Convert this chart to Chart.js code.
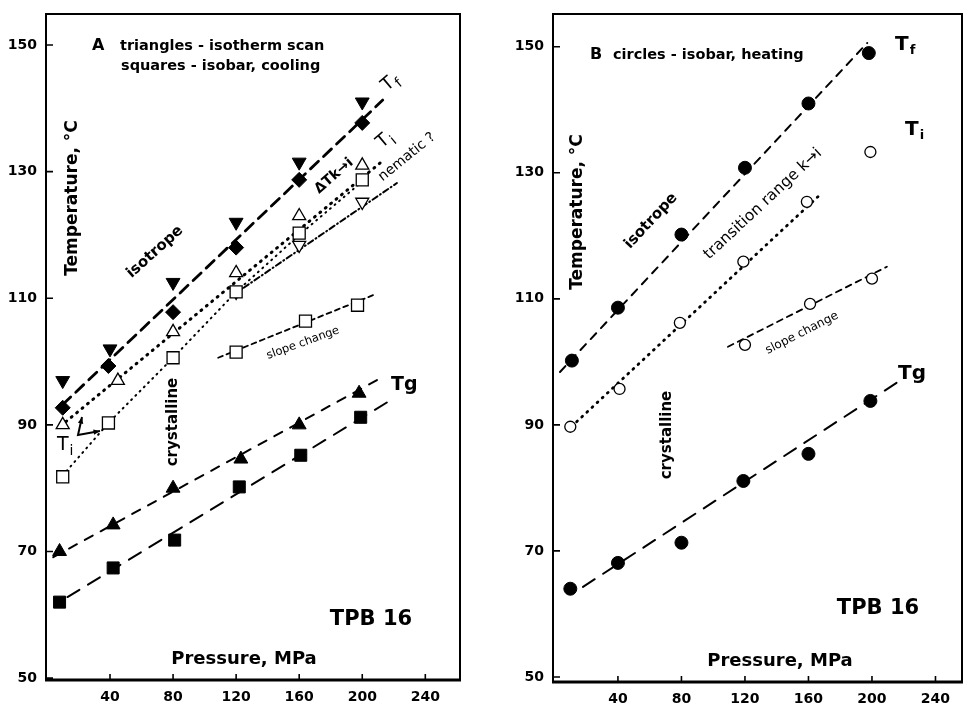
<!DOCTYPE html>
<html>
<head>
<meta charset="utf-8">
<script src="https://cdn.jsdelivr.net/npm/chart.js@4.4.1/dist/chart.umd.min.js"></script>
<style>
  body { margin: 0; background: #fff; }
  #wrap { position: relative; width: 963px; height: 707px; }
  canvas { position: absolute; top: 0; }
</style>
</head>
<body>
<div id="wrap">
  <canvas id="chartA" width="480" height="707" style="left:0"></canvas>
  <canvas id="chartB" width="483" height="707" style="left:480px"></canvas>
</div>
<script>
// tick labels
const pressureTicks = [40, 80, 120, 160, 200, 240];
const tempTicks = [50, 70, 90, 110, 130, 150];

// Panel A - triangles: isotherm scan, squares: isobar cooling
const aTfTriP = [10, 40, 80, 120, 160, 200];
const aTfTriT = [97, 102, 112.5, 122, 131.5, 141];
const aTfSqP = [10, 39, 80, 120, 160, 200];
const aTfSqT = [92.7, 99.3, 107.8, 118, 128.7, 137.7];
const aTiTriP = [10, 45, 80, 120, 160, 200];
const aTiTriT = [90, 97, 104.7, 114, 123, 131];
const aTiSqP = [10, 39, 80, 120, 160, 200];
const aTiSqT = [81.8, 90.3, 100.6, 111, 120.3, 128.7];
const aDownTriP = [120, 160, 200];
const aDownTriT = [111, 118.4, 125.2];
const aSlopeSqP = [120, 164, 197];
const aSlopeSqT = [101.5, 106.4, 108.9];
const aTgTriP = [8, 42, 80, 123, 160, 198];
const aTgTriT = [70, 74.2, 80, 84.6, 90, 95];
const aTgSqP = [8, 42, 81, 122, 161, 199];
const aTgSqT = [62, 67.4, 71.8, 80.2, 85.2, 91.2];

// Panel A - guide lines
const aFitTfP = [10, 213];
const aFitTfT = [93.2, 141.3];
const aFitTiUpP = [12, 212];
const aFitTiUpT = [90.5, 131.5];
const aFitTiLowP = [10, 39, 80, 120, 160, 205];
const aFitTiLowT = [82, 90.3, 100.6, 111, 120, 129.5];
const aFitNemP = [118, 222];
const aFitNemT = [110.5, 128.2];
const aFitSlopeP = [108.6, 207];
const aFitSlopeT = [100.6, 110.5];
const aFitTgTriP = [4, 209.5];
const aFitTgTriT = [69.1, 97.1];
const aFitTgSqP = [13, 218];
const aFitTgSqT = [62.8, 93.9];

// Panel B - circles: isobar heating
const bTfP = [11, 40, 80, 120, 160, 198];
const bTfT = [100.2, 108.6, 120.2, 130.8, 141, 149];
const bTiP = [10, 41, 79, 119, 159, 199];
const bTiT = [89.7, 95.7, 106.2, 115.9, 125.4, 133.3];
const bSlopeP = [120, 161, 200];
const bSlopeT = [102.7, 109.2, 113.2];
const bTgP = [10, 40, 80, 119, 160, 199];
const bTgT = [64, 68.1, 71.3, 81.1, 85.4, 93.8];

// Panel B - guide lines
const bFitTfP = [3.5, 197];
const bFitTfT = [98.4, 150.6];
const bFitTiP = [14, 168.5];
const bFitTiT = [90.5, 126.8];
const bFitSlopeP = [109.3, 209.4];
const bFitSlopeT = [102.4, 115.1];
const bFitTgP = [18, 215.7];
const bFitTgT = [64.3, 96.7];

const pts = (xs, ys) => xs.map((x, i) => ({x: x, y: ys[i]}));

function marker(xs, ys, style, r, filled, rot) {
    return {
        data: pts(xs, ys),
        pointStyle: style,
        pointRadius: r,
        pointRotation: rot || 0,
        pointBackgroundColor: filled ? '#000' : '#fff',
        pointBorderColor: '#000',
        pointBorderWidth: filled ? 1 : 1.3,
        showLine: false
    };
}

function guide(xs, ys, dash, width) {
    return {
        data: pts(xs, ys),
        showLine: true,
        borderColor: '#000',
        borderWidth: width,
        borderDash: dash,
        borderCapStyle: 'round',
        pointRadius: 0,
        fill: false,
        tension: 0
    };
}

function axes(xMin, xMax, yMin, yMax, yW, xH) {
    const tickFont = {family: 'DejaVu Sans', weight: 'bold', size: 14};
    return {
        x: {
            type: 'linear', min: xMin, max: xMax,
            grid: {display: false, drawTicks: false},
            border: {display: false},
            afterBuildTicks: s => { s.ticks = pressureTicks.map(v => ({value: v})); },
            afterFit: s => { s.height = xH; s.paddingLeft = 0; s.paddingRight = 0; },
            ticks: {color: '#000', font: tickFont, padding: 9, maxRotation: 0, autoSkip: false}
        },
        y: {
            type: 'linear', min: yMin, max: yMax,
            grid: {display: false, drawTicks: false},
            border: {display: false},
            afterBuildTicks: s => { s.ticks = tempTicks.map(v => ({value: v})); },
            afterFit: s => { s.width = yW; s.paddingTop = 0; s.paddingBottom = 0; },
            ticks: {color: '#000', font: tickFont, padding: 9, autoSkip: false}
        }
    };
}

// box around the plot with inward tick marks
const framePlugin = {
    id: 'frame',
    afterDatasetsDraw(chart) {
        const ctx = chart.ctx;
        const a = chart.chartArea;
        const x = chart.scales.x, y = chart.scales.y;
        ctx.save();
        ctx.strokeStyle = '#000';
        ctx.lineWidth = 2;
        ctx.strokeRect(a.left, a.top, a.right - a.left, a.bottom - a.top);
        ctx.lineWidth = 3;
        ctx.beginPath();
        ctx.moveTo(a.left - 1, a.bottom);
        ctx.lineTo(a.right + 1, a.bottom);
        ctx.stroke();
        ctx.lineWidth = 1.6;
        ctx.beginPath();
        pressureTicks.forEach(v => {
            const px = x.getPixelForValue(v);
            ctx.moveTo(px, a.bottom);
            ctx.lineTo(px, a.bottom - 6);
        });
        tempTicks.forEach(v => {
            const py = y.getPixelForValue(v);
            ctx.moveTo(a.left, py);
            ctx.lineTo(a.left + 7, py);
        });
        ctx.stroke();
        ctx.restore();
    }
};

function notes(items, arrows) {
    return {
        id: 'notes',
        afterDraw(chart) {
            const ctx = chart.ctx;
            items.forEach(n => {
                ctx.save();
                ctx.translate(n.x, n.y);
                ctx.rotate((n.rot || 0) * Math.PI / 180);
                ctx.fillStyle = '#000';
                ctx.font = n.font;
                ctx.textAlign = n.align || 'center';
                ctx.textBaseline = 'middle';
                ctx.fillText(n.text, 0, 0);
                if (n.sub) {
                    const w = ctx.measureText(n.text).width;
                    ctx.font = n.subFont;
                    ctx.textAlign = 'left';
                    ctx.fillText(n.sub, w + 1, 6);
                }
                ctx.restore();
            });
            (arrows || []).forEach(p => {
                ctx.save();
                ctx.strokeStyle = '#000';
                ctx.fillStyle = '#000';
                ctx.lineWidth = 2;
                ctx.beginPath();
                ctx.moveTo(p[0][0], p[0][1]);
                p.slice(1).forEach(q => ctx.lineTo(q[0], q[1]));
                ctx.stroke();
                [[p[1], p[0]], [p[p.length - 2], p[p.length - 1]]].forEach(seg => {
                    const ang = Math.atan2(seg[1][1] - seg[0][1], seg[1][0] - seg[0][0]);
                    const tx = seg[1][0], ty = seg[1][1];
                    ctx.beginPath();
                    ctx.moveTo(tx, ty);
                    ctx.lineTo(tx - 7 * Math.cos(ang - 0.4), ty - 7 * Math.sin(ang - 0.4));
                    ctx.lineTo(tx - 7 * Math.cos(ang + 0.4), ty - 7 * Math.sin(ang + 0.4));
                    ctx.closePath();
                    ctx.fill();
                });
                ctx.restore();
            });
        }
    };
}

const F = '"DejaVu Sans"';

const notesA = [
    {text: 'A', x: 92, y: 46, align: 'left', font: 'bold 16px ' + F},
    {text: 'triangles - isotherm scan', x: 120, y: 46, align: 'left', font: 'bold 14.5px ' + F},
    {text: 'squares - isobar, cooling', x: 121, y: 66, align: 'left', font: 'bold 14.5px ' + F},
    {text: 'T', sub: 'f', x: 384, y: 88, rot: -40, align: 'left', font: '18px ' + F, subFont: '14px ' + F},
    {text: 'T', sub: 'i', x: 379, y: 145, rot: -40, align: 'left', font: '18px ' + F, subFont: '14px ' + F},
    {text: 'isotrope', x: 155, y: 252, rot: -42, font: 'bold 15px ' + F},
    {text: 'Temperature, \u00b0C', x: 73, y: 198, rot: -90, font: 'bold 17px ' + F},
    {text: '\u0394Tk\u2192i', x: 334, y: 176, rot: -41, font: 'bold 14px ' + F},
    {text: 'nematic ?', x: 407, y: 157, rot: -39, font: '14px ' + F},
    {text: 'slope change', x: 303, y: 343, rot: -20, font: '11.5px ' + F},
    {text: 'crystalline', x: 173, y: 422, rot: -90, font: 'bold 15px ' + F},
    {text: 'T', sub: 'i', x: 57, y: 445, align: 'left', font: '19px ' + F, subFont: '14px ' + F},
    {text: 'Tg', x: 391, y: 385, align: 'left', font: 'bold 19px ' + F},
    {text: 'TPB 16', x: 371, y: 620, font: 'bold 21px ' + F},
    {text: 'Pressure, MPa', x: 244, y: 659, font: 'bold 18px ' + F}
];
const arrowsA = [[[82, 417], [78, 435], [100, 431]]];

const notesB = [
    {text: 'B', x: 110, y: 55, align: 'left', font: 'bold 16px ' + F},
    {text: 'circles - isobar, heating', x: 133, y: 55, align: 'left', font: 'bold 14.5px ' + F},
    {text: 'T', sub: 'f', x: 415, y: 45, align: 'left', font: 'bold 20px ' + F, subFont: 'bold 13px ' + F},
    {text: 'T', sub: 'i', x: 425, y: 130, align: 'left', font: 'bold 20px ' + F, subFont: 'bold 13px ' + F},
    {text: 'Temperature, \u00b0C', x: 98, y: 212, rot: -90, font: 'bold 17px ' + F},
    {text: 'isotrope', x: 171, y: 221, rot: -47, font: 'bold 15px ' + F},
    {text: 'transition range k\u2192i', x: 283, y: 204, rot: -43, font: '15.5px ' + F},
    {text: 'slope change', x: 322, y: 333, rot: -27, font: '12px ' + F},
    {text: 'crystalline', x: 187, y: 435, rot: -90, font: 'bold 15px ' + F},
    {text: 'Tg', x: 418, y: 374, align: 'left', font: 'bold 20px ' + F},
    {text: 'TPB 16', x: 398, y: 609, font: 'bold 21px ' + F},
    {text: 'Pressure, MPa', x: 300, y: 661, font: 'bold 18px ' + F}
];

const common = {
    responsive: false,
    animation: false,
    devicePixelRatio: 1,
    plugins: {legend: {display: false}, tooltip: {enabled: false}}
};

new Chart(document.getElementById('chartA'), {
    type: 'scatter',
    data: {
        datasets: [
            marker(aTfTriP, aTfTriT, 'triangle', 8, true, 180),
            marker(aTfSqP, aTfSqT, 'rectRot', 7.5, true),
            marker(aTiTriP, aTiTriT, 'triangle', 7.5, false),
            marker(aTiSqP, aTiSqT, 'rect', 8.5, false),
            marker(aDownTriP, aDownTriT, 'triangle', 7.5, false, 180),
            marker(aSlopeSqP, aSlopeSqT, 'rect', 8.5, false),
            marker(aTgTriP, aTgTriT, 'triangle', 8, true),
            marker(aTgSqP, aTgSqT, 'rect', 8.5, true),
            guide(aFitTfP, aFitTfT, [11, 7], 2.8),
            guide(aFitTiUpP, aFitTiUpT, [1, 6], 3),
            guide(aFitTiLowP, aFitTiLowT, [1, 5], 2),
            guide(aFitNemP, aFitNemT, [6, 3, 1, 3], 2),
            guide(aFitSlopeP, aFitSlopeT, [5, 4], 1.8),
            guide(aFitTgTriP, aFitTgTriT, [9, 9], 2),
            guide(aFitTgSqP, aFitTgSqT, [14, 10], 2)
        ]
    },
    options: Object.assign({}, common, {
        layout: {autoPadding: false, padding: {left: 0, top: 14, right: 20, bottom: 0}},
        scales: axes(-0.6, 262, 49.7, 154.9, 46, 27)
    }),
    plugins: [framePlugin, notes(notesA, arrowsA)]
});

new Chart(document.getElementById('chartB'), {
    type: 'scatter',
    data: {
        datasets: [
            marker(bTfP, bTfT, 'circle', 6.5, true),
            marker(bTiP, bTiT, 'circle', 5.5, false),
            marker(bSlopeP, bSlopeT, 'circle', 5.5, false),
            marker(bTgP, bTgT, 'circle', 6.5, true),
            guide(bFitTfP, bFitTfT, [8, 7], 2),
            guide(bFitTiP, bFitTiT, [1, 6], 2.8),
            guide(bFitSlopeP, bFitSlopeT, [6, 5], 1.8),
            guide(bFitTgP, bFitTgT, [14, 10], 2)
        ]
    },
    options: Object.assign({}, common, {
        layout: {autoPadding: false, padding: {left: 0, top: 14, right: 1, bottom: 0}},
        scales: axes(-0.9, 256.7, 49.2, 155.2, 73, 25)
    }),
    plugins: [framePlugin, notes(notesB)]
});
</script>
</body>
</html>
